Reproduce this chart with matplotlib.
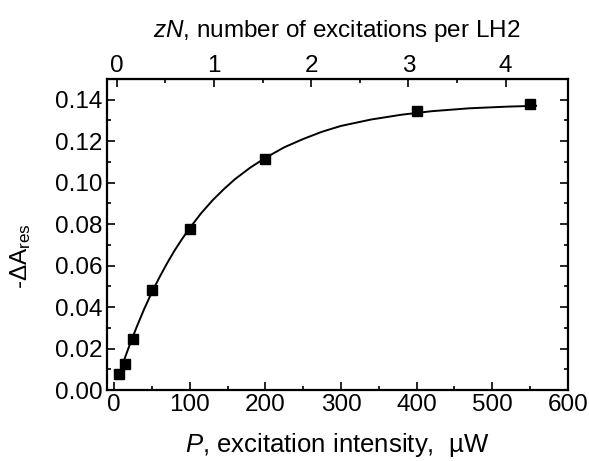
import matplotlib
matplotlib.use("Agg")
import matplotlib.pyplot as plt

# measured points
power_uw = [7, 14, 25, 50, 100, 200, 401, 550]
delta_a = [0.0076, 0.0124, 0.0246, 0.048, 0.0775, 0.1114, 0.1343, 0.1381]

# fitted curve
fit_p = [9, 15, 22, 30, 40, 50, 60, 70, 80, 90, 100, 115, 130, 145, 160,
         180, 200, 225, 250, 275, 300, 340, 380, 420, 470, 520, 558]
fit_a = [0.0100, 0.0163, 0.0232, 0.0306, 0.0393, 0.0472, 0.0544, 0.0611,
         0.0673, 0.0729, 0.0781, 0.0852, 0.0914, 0.0968, 0.1017, 0.1072,
         0.1119, 0.1170, 0.1210, 0.1245, 0.1273, 0.1304, 0.1327, 0.1344,
         0.1358, 0.1366, 0.1370]

# top axis: zN = (P - offset) / scale
ZN_OFFSET = 3.3
ZN_SCALE = 128.6
zn_ticks = [0, 1, 2, 3, 4]
zn_minor = [0.5, 1.5, 2.5, 3.5]

FS = 17.5

plt.rcParams["font.family"] = ["Liberation Sans", "DejaVu Sans"]
plt.rcParams["mathtext.fontset"] = "custom"
plt.rcParams["mathtext.rm"] = "Liberation Sans"
plt.rcParams["mathtext.it"] = "Liberation Sans:italic"

fig = plt.figure(figsize=(5.89, 4.61), dpi=100)
ax = fig.add_axes([0.181, 0.154, 0.783, 0.675])

ax.plot(fit_p, fit_a, color="black", linewidth=1.4)
ax.plot(power_uw, delta_a, "s", color="black", markersize=7.5)

ax.set_xlim(-10, 600)
ax.set_ylim(0, 0.15)
ax.set_xticks(range(0, 601, 100))
ax.set_xticks(range(0, 601, 50), minor=True)
ax.set_yticks([i * 0.02 for i in range(8)])
ax.set_yticks([i * 0.01 for i in range(15)], minor=True)
ax.set_yticklabels([f"{i * 0.02:.2f}" for i in range(8)])

ax.tick_params(which="both", direction="in", labelsize=FS, width=1.2,
               right=True, top=False, pad=3)
ax.tick_params(which="major", length=6)
ax.tick_params(which="minor", length=3)
for s in ax.spines.values():
    s.set_linewidth(1.6)

ax.set_xlabel("$\\mathit{P}$, excitation intensity,  \u00b5W", fontsize=18.5,
              labelpad=11)
ax.set_ylabel("-$\\Delta$A$_{\\rm res}$", fontsize=FS)
ax.yaxis.set_label_coords(-0.16, 0.43)

top = ax.secondary_xaxis(
    "top",
    functions=(lambda p: (p - ZN_OFFSET) / ZN_SCALE,
               lambda z: z * ZN_SCALE + ZN_OFFSET),
)
top.set_xticks(zn_ticks)
top.set_xticks(zn_minor, minor=True)
top.tick_params(which="both", direction="in", labelsize=FS, width=1.2, pad=1)
top.tick_params(which="major", length=6)
top.tick_params(which="minor", length=3)
top.set_xlabel("$\\mathit{zN}$, number of excitations per LH2", fontsize=FS,
               labelpad=13)

fig.savefig("out.png", dpi=100)
